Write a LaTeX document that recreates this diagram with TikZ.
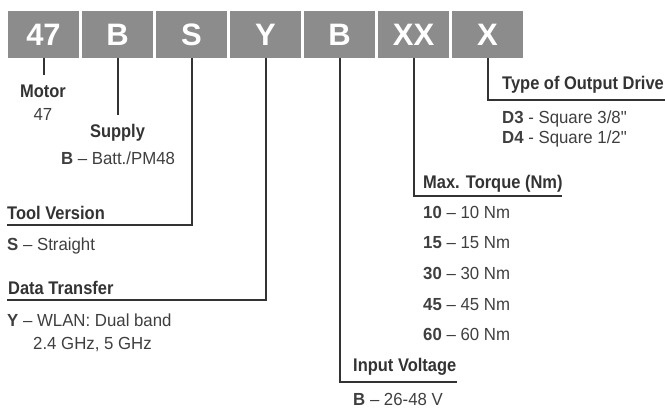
\documentclass[tikz,border=0pt]{standalone}
\usepackage{fontspec}
\setmainfont{Liberation Sans}
\newfontfamily\headfont[FakeStretch=0.9]{Liberation Sans}
\newfontfamily\itemfont[FakeStretch=0.96]{Liberation Sans}
\definecolor{boxgray}{HTML}{8C8C8C}
\definecolor{ink}{HTML}{333333}
\definecolor{inkreg}{HTML}{3F3F3F}
\tikzset{
  box/.style={fill=boxgray, draw=none, minimum width=71pt, minimum height=47pt, inner sep=0pt,
    text=white, font=\fontsize{31}{31}\selectfont\bfseries},
  conn/.style={draw=ink, line width=2pt},
  head/.style={inner sep=0pt, text=ink, font=\headfont\fontsize{18.3}{18.3}\selectfont\bfseries},
  item/.style={inner sep=0pt, text=inkreg, font=\itemfont\fontsize{17.5}{17.5}\selectfont},
}
\begin{document}
\begin{tikzpicture}[x=1pt,y=-1pt]
\useasboundingbox (0,0) rectangle (667,408);
% code boxes
\node[box] (b0) at (43.5,34.5) {47};
\node[box] (b1) at (117.5,34.5) {B};
\node[box] (b2) at (191.5,34.5) {S};
\node[box] (b3) at (265.5,34.5) {Y};
\node[box] (b4) at (339.5,34.5) {B};
\node[box] (b5) at (413.5,34.5) {XX};
\node[box] (b6) at (487.5,34.5) {X};
% connector end points
\coordinate (m1) at (43.5,75);
\coordinate (s1) at (117.5,115);
\coordinate (t1) at (191.5,225);
\coordinate (t2) at (7,225);
\coordinate (d1) at (265.5,300);
\coordinate (d2) at (7,300);
\coordinate (v1) at (339.5,381.5);
\coordinate (v2) at (457,381.5);
\coordinate (q1) at (413.5,196);
\coordinate (q2) at (562,196);
\coordinate (o1) at (487.5,100);
\coordinate (o2) at (665,100);
% connectors
\draw[conn] (b0.south) -- (m1);
\draw[conn] (b1.south) -- (s1);
\draw[conn] (b2.south) -- (t1) -- (t2);
\draw[conn] (b3.south) -- (d1) -- (d2);
\draw[conn] (b4.south) -- (v1) -- (v2);
\draw[conn] (b5.south) -- (q1) -- (q2);
\draw[conn] (b6.south) -- (o1) -- (o2);
% Motor
\node[head, anchor=base] (motor) at (43,97.7) {Motor};
\node[item, anchor=base] (motorv) at (43,120) {47};
% Supply
\node[head, anchor=base] (supply) at (117.5,137.3) {Supply};
\node[item, anchor=base] (supplyv) at (118,164) {\textbf{B} – Batt./PM48};
% Tool version
\node[head, anchor=base west] (tool) at (7,219.3) {Tool Version};
\node[item, anchor=base west] (toolv) at (7,250) {\textbf{S} – Straight};
% Data transfer
\node[head, anchor=base west] (data) at (8,294) {Data Transfer};
\node[item, anchor=base west] (datav1) at (7,326.7) {\textbf{Y} – WLAN: Dual band};
\node[item, anchor=base west] (datav2) at (33,349.3) {2.4 GHz, 5 GHz};
% Input voltage
\node[head, anchor=base west] (volt) at (353,371.7) {Input Voltage};
\node[item, anchor=base west] (voltv) at (353,405) {\textbf{B} – 26-48 V};
% Max torque
\node[head, anchor=base west] (torque) at (423,188.3) {Max. Torque (Nm)};
\node[item, anchor=base west] (tq1) at (423,218.3) {\textbf{10} – 10 Nm};
\node[item, anchor=base west] (tq2) at (423,248.6) {\textbf{15} – 15 Nm};
\node[item, anchor=base west] (tq3) at (423,279.2) {\textbf{30} – 30 Nm};
\node[item, anchor=base west] (tq4) at (423,310) {\textbf{45} – 45 Nm};
\node[item, anchor=base west] (tq5) at (423,340.7) {\textbf{60} – 60 Nm};
% Output drive
\node[head, anchor=base west] (drive) at (502,89.3) {Type of Output Drive};
\node[item, anchor=base west] (dr1) at (502,123.3) {\textbf{D3} - Square 3/8"};
\node[item, anchor=base west] (dr2) at (502,143.3) {\textbf{D4} - Square 1/2"};
\end{tikzpicture}
\end{document}
